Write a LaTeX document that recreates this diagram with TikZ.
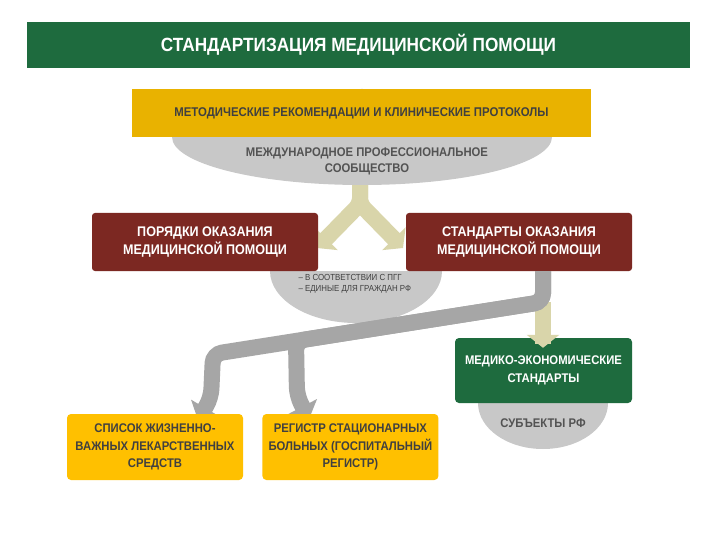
\documentclass[tikz,border=0pt]{standalone}
\usepackage{fontspec}
\setmainfont{Liberation Sans}[FakeStretch=0.9]
\usetikzlibrary{arrows.meta,positioning}
\definecolor{titlegreen}{RGB}{30,107,62}
\definecolor{bargold}{RGB}{233,178,0}
\definecolor{boxyellow}{RGB}{255,192,0}
\definecolor{boxred}{RGB}{124,40,34}
\definecolor{ellgray}{RGB}{200,200,200}
\definecolor{conngray}{RGB}{166,166,166}
\definecolor{beige}{RGB}{217,213,170}
\definecolor{textgray}{RGB}{64,64,64}

\begin{document}
\begin{tikzpicture}[x=1bp,y=-1bp,
		redbox/.style={fill=boxred, rounded corners=3bp, minimum width=226bp, minimum height=58bp,
			inner sep=0pt, text=white, align=center, font=\bfseries\fontsize{14}{18}\selectfont},
		yellowbox/.style={fill=boxyellow, rounded corners=4bp, minimum width=176bp, minimum height=66bp,
			inner sep=0pt, text=textgray, align=center, font=\bfseries\fontsize{12.6}{17.5}\selectfont},
		graytext/.style={text=textgray!90, align=center, font=\bfseries\fontsize{12.6}{16}\selectfont},
		fatbeige/.style={draw=beige, line width=16bp, rounded corners=6bp, -{Triangle[width=32bp,length=13bp]}},
		fatgray/.style={draw=conngray, line width=16bp, rounded corners=9bp, -{Triangle[width=32bp,length=14bp]}}]
		\useasboundingbox[fill=white] (0,0) rectangle (720,540);
		
		% title
		\node[fill=titlegreen, minimum width=663bp, minimum height=46bp, inner sep=0pt, text=white,
			font=\bfseries\fontsize{19.2}{20}\selectfont] (title) at (358.5,45) {СТАНДАРТИЗАЦИЯ МЕДИЦИНСКОЙ ПОМОЩИ};
		
		% split arrow
		\foreach \dx in {-1,1}
			\draw[fatbeige] (360,175) -- (360,204) -- (360+\dx*43,248);
		
		\fill[ellgray] (362,137) ellipse [x radius=190, y radius=48];
		\node[fill=bargold, minimum width=459bp, minimum height=48bp, inner sep=0pt, text=textgray,
			font=\bfseries\fontsize{12.7}{14}\selectfont] (protocols) at (361.5,113) {МЕТОДИЧЕСКИЕ РЕКОМЕНДАЦИИ И КЛИНИЧЕСКИЕ ПРОТОКОЛЫ};
		\node[graytext] (community) at (367,161) {МЕЖДУНАРОДНОЕ ПРОФЕССИОНАЛЬНОЕ\\СООБЩЕСТВО};
		
		\begin{scope}
			\clip (260,271) rectangle (460,330);
			\fill[ellgray] (356,271) ellipse [x radius=86, y radius=52];
		\end{scope}
		\node[redbox] (orders) at (205,242) {ПОРЯДКИ ОКАЗАНИЯ\\МЕДИЦИНСКОЙ ПОМОЩИ};
		\node[redbox] (standards) at (519,242) {СТАНДАРТЫ ОКАЗАНИЯ\\МЕДИЦИНСКОЙ ПОМОЩИ};
		\node[anchor=west, align=left, text=textgray, font=\fontsize{8.8}{11}\selectfont] (pgg) at (295,284)
			{– В СООТВЕТСТВИИ С ПГГ\\– ЕДИНЫЕ ДЛЯ ГРАЖДАН РФ};
		
		\begin{scope}
			\clip (470,403) rectangle (620,460);
			\fill[ellgray] (543,403) ellipse [x radius=65, y radius=46];
		\end{scope}
		\node[fill=titlegreen, rounded corners=4bp, minimum width=177bp, minimum height=65bp, inner sep=0pt,
			text=white, align=center, font=\bfseries\fontsize{12.6}{18}\selectfont] (mes) at (543.5,370.5)
			{МЕДИКО-ЭКОНОМИЧЕСКИЕ\\СТАНДАРТЫ};
		\node[graytext] (subjects) at (543,423) {СУБЪЕКТЫ РФ};
		
		% connectors
		\coordinate (bend) at (543,302);
		\draw[fatbeige] (bend) -- (mes.north -| bend) -- ++(0,10);
		\draw[fatgray] (standards.south -| bend) -- (bend) -- (213,354) -- (211,398) -- (198,420);
		\draw[fatgray] (standards.south -| bend) -- (bend) -- (296,341) -- (297,396) -- (309,419);
		
		\node[yellowbox] (drugs) at (155,447) {СПИСОК ЖИЗНЕННО-\\ВАЖНЫХ ЛЕКАРСТВЕННЫХ\\СРЕДСТВ};
		\node[yellowbox, right=19bp of drugs] (registry) {РЕГИСТР СТАЦИОНАРНЫХ\\БОЛЬНЫХ (ГОСПИТАЛЬНЫЙ\\РЕГИСТР)};
	\end{tikzpicture}
\end{document}
